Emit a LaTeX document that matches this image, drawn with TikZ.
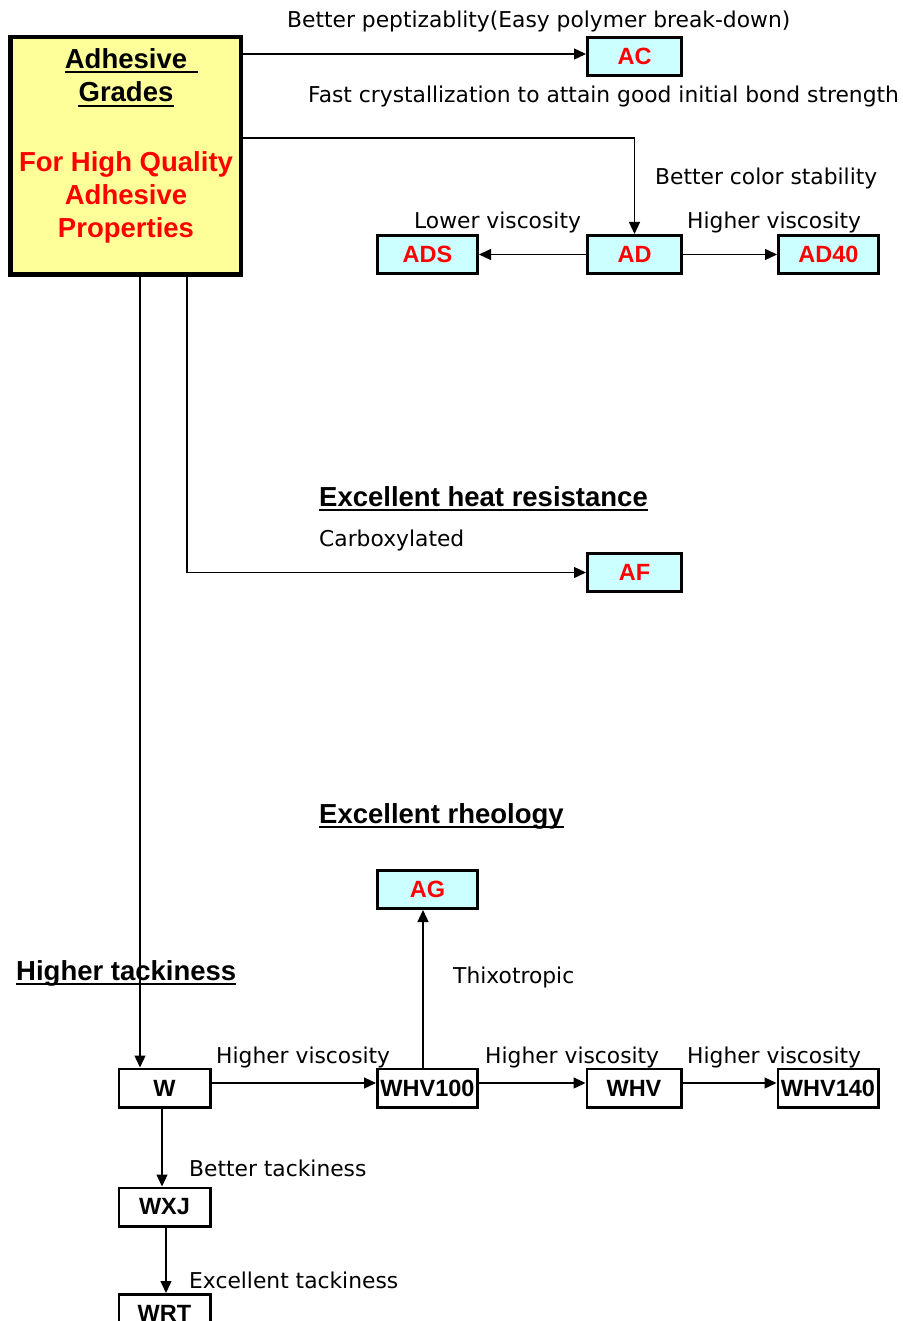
\documentclass[tikz,border=0pt]{standalone}
\usepackage{fontspec}
\setmainfont{Liberation Sans}
\newfontfamily\lblfont{DejaVu Sans}
\usetikzlibrary{arrows.meta,calc}

\definecolor{boxcyan}{HTML}{CCFFFF}
\definecolor{boxyellow}{HTML}{FFFF99}
\definecolor{gradered}{HTML}{FF0000}

\begin{document}
\begin{tikzpicture}[x=1pt,y=-1pt,
  grade/.style={draw, line width=2.6pt, fill=boxcyan, minimum width=94.4pt,
    minimum height=38.4pt, inner sep=0pt, text=gradered,
    font=\fontsize{23.5}{26}\selectfont\bfseries},
  gradewide/.style={grade, minimum width=100.4pt},
  plain/.style={grade, fill=white, text=black},
  plainwide/.style={plain, minimum width=100.4pt},
  plainnarrow/.style={plain, minimum width=91.4pt},
  mainbox/.style={draw, line width=4.5pt, fill=boxyellow, minimum width=230.5pt,
    minimum height=237.5pt, inner sep=0pt},
  maintext/.style={inner sep=0pt, anchor=base,
    font=\fontsize{27.5}{30}\selectfont\bfseries},
  lbl/.style={inner sep=0pt, anchor=base west,
    font=\lblfont\fontsize{21.8}{25}\selectfont},
  head/.style={inner sep=0pt, anchor=base west,
    font=\fontsize{27.5}{30}\selectfont\bfseries},
  ulin/.style={line width=2.2pt},
  arr/.style={line width=1.3pt, -{Triangle[length=12pt,width=11pt]}},
]
\clip (0,0) rectangle (902,1321);
\fill[white] (0,0) rectangle (902,1321);

% ---- title block ----
\node[mainbox] (main) at (125.75,155.75) {};
\node[maintext] (t1) at (126,69) {Adhesive};
\node[maintext] (t2) at (126,102) {Grades};
\node[maintext, text=gradered] (t3) at (126,172) {For High Quality};
\node[maintext, text=gradered] (t4) at (126,205) {Adhesive};
\node[maintext, text=gradered] (t5) at (126,238) {Properties};
\draw[ulin] ($(t1.base west)+(0,3)$) -- ($(t1.base east)+(11,3)$);
\draw[ulin] ($(t2.base west)+(0,4)$) -- ($(t2.base east)+(0,4)$);

% ---- grade boxes ----
\node[grade] (AC) at (634.5,56.5) {AC};
\node[grade] (AD) at (634.5,254.5) {AD};
\node[gradewide] (ADS) at (427.5,254.5) {ADS};
\node[gradewide] (AD40) at (828.5,254.5) {AD40};
\node[grade] (AF) at (634.5,572.5) {AF};
\node[gradewide] (AG) at (427.5,889.5) {AG};
\node[plainnarrow] (W) at (164.5,1088) {W};
\node[plainwide] (WHV100) at (427.5,1088) {WHV100};
\node[plain] (WHV) at (634,1088) {WHV};
\node[plainwide] (WHV140) at (828,1088) {WHV140};
\node[plainnarrow] (WXJ) at (164.5,1207) {WXJ};
\node[plainnarrow] (WRT) at (164.5,1313.5) {WRT};

% ---- section headings ----
\node[head] (h1) at (319,506) {Excellent heat resistance};
\node[head] (h2) at (319,823) {Excellent rheology};
\node[head] (h3) at (16,980) {Higher tackiness};
\foreach \h in {h1,h2,h3}
  \draw[ulin] ($(\h.base west)+(0,4)$) -- ($(\h.base east)+(0,4)$);

% ---- connector routing points ----
\coordinate (acin) at (586,54);
\coordinate (adbend) at (634.5,138);
\coordinate (afbend) at (187,572.5);
\coordinate (wx) at (140,0);
\coordinate (row) at (0,1083);
\coordinate (agx) at (423,0);
\coordinate (wxjx) at (162,0);
\coordinate (wrtx) at (166,0);

% ---- connectors ----
\draw[arr] (main.east |- acin) -- (AC.west |- acin);
\draw[arr] (main.east |- adbend) -- (adbend) -- (AD.north);
\draw[arr] (AD.west) -- (ADS.east);
\draw[arr] (AD.east) -- (AD40.west);
\draw[arr] (main.south -| afbend) -- (afbend) -- (AF.west);
\draw[arr] (main.south -| wx) -- (W.north -| wx);
\draw[arr] (W.east |- row) -- (WHV100.west |- row);
\draw[arr] (WHV100.east |- row) -- (WHV.west |- row);
\draw[arr] (WHV.east |- row) -- (WHV140.west |- row);
\draw[arr] (WHV100.north -| agx) -- (AG.south -| agx);
\draw[arr] (W.south -| wxjx) -- (WXJ.north -| wxjx);
\draw[arr] (WXJ.south -| wrtx) -- (WRT.north -| wrtx);

% ---- connector labels ----
\node[lbl] (l1) at (287,28) {Better peptizablity(Easy polymer break-down)};
\node[lbl] (l2) at (308,103) {Fast crystallization to attain good initial bond strength};
\node[lbl] (l3) at (655,185) {Better color stability};
\node[lbl] (l4) at (414,229) {Lower viscosity};
\node[lbl] (l5) at (687,229) {Higher viscosity};
\node[lbl] (l6) at (319,546) {Carboxylated};
\node[lbl] (l7) at (453,983) {Thixotropic};
\node[lbl] (l8) at (216,1063) {Higher viscosity};
\node[lbl] (l9) at (485,1063) {Higher viscosity};
\node[lbl] (l10) at (687,1063) {Higher viscosity};
\node[lbl] (l11) at (189,1176) {Better tackiness};
\node[lbl] (l12) at (189,1288) {Excellent tackiness};
\end{tikzpicture}
\end{document}
